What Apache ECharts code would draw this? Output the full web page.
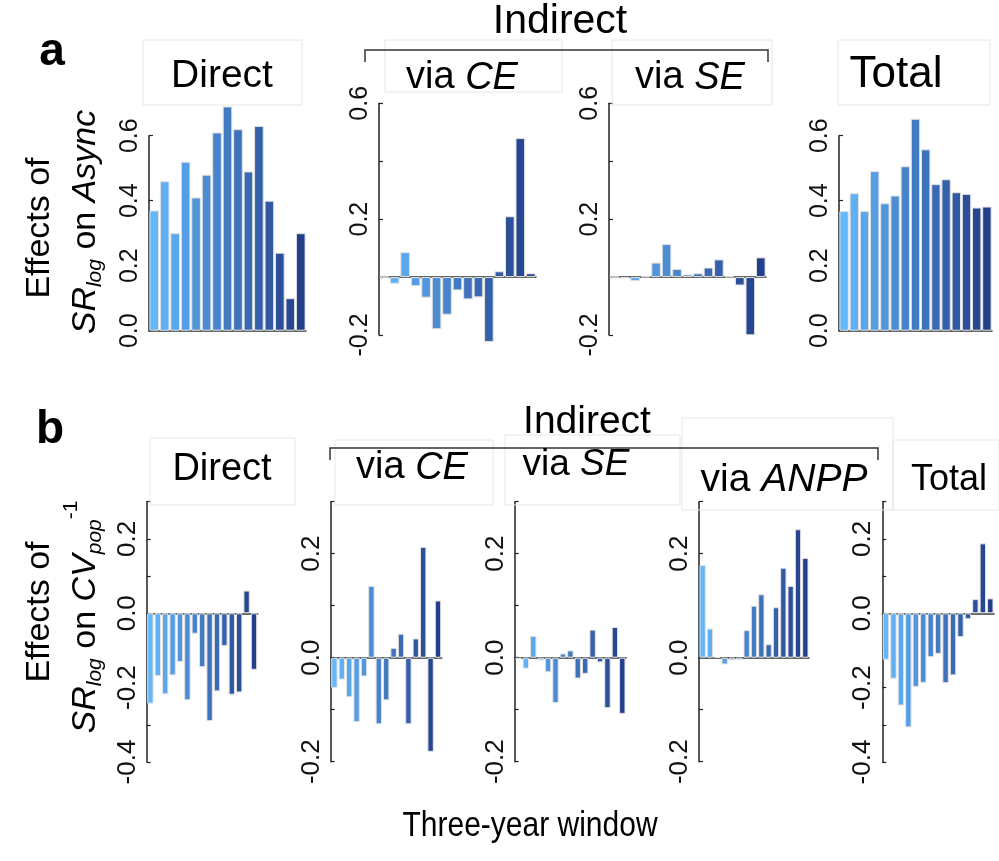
<!DOCTYPE html>
<html>
<head>
<meta charset="utf-8">
<script src="https://cdn.jsdelivr.net/npm/echarts@6/dist/echarts.min.js"></script>
<style>
html, body { margin: 0; padding: 0; background: #fff; }
#main { width: 999px; height: 861px; }
</style>
</head>
<body>
<div id="main"></div>
<script>
// three-year windows (x categories, labels hidden)
var windows = ['W1','W2','W3','W4','W5','W6','W7','W8','W9','W10','W11','W12','W13','W14','W15'];

// panel a: effects of SRlog on Async
var aDirect = [0.37, 0.46, 0.30, 0.52, 0.41, 0.48, 0.61, 0.69, 0.62, 0.49, 0.63, 0.40, 0.24, 0.10, 0.30];
var aViaCE  = [0, -0.023, 0.086, -0.031, -0.071, -0.18, -0.13, -0.046, -0.077, -0.07, -0.224, 0.02, 0.21, 0.48, 0.013];
var aViaSE  = [0, -0.005, -0.014, 0.002, 0.05, 0.114, 0.028, 0.009, 0.013, 0.033, 0.061, 0.002, -0.029, -0.201, 0.068];
var aTotal  = [0.368, 0.423, 0.368, 0.491, 0.392, 0.416, 0.506, 0.652, 0.558, 0.451, 0.466, 0.426, 0.421, 0.379, 0.382];

// panel b: effects of SRlog on CVpop^-1
var bDirect = [-0.243, -0.169, -0.218, -0.167, -0.131, -0.234, -0.055, -0.145, -0.29, -0.21, -0.088, -0.219, -0.213, 0.061, -0.152];
var bViaCE  = [-0.058, -0.042, -0.076, -0.124, -0.036, 0.138, -0.128, -0.082, 0.019, 0.046, -0.128, 0.037, 0.213, -0.181, 0.11];
var bViaSE  = [-0.003, -0.021, 0.042, -0.005, -0.028, -0.087, 0.008, 0.014, -0.04, -0.031, 0.054, -0.009, -0.097, 0.059, -0.108];
var bViaANPP = [0.178, 0.056, 0.001, -0.013, -0.005, -0.004, 0.053, 0.1, 0.122, 0.026, 0.097, 0.173, 0.138, 0.247, 0.192];
var bTotal  = [-0.125, -0.176, -0.248, -0.307, -0.198, -0.187, -0.118, -0.109, -0.188, -0.167, -0.064, -0.016, 0.038, 0.188, 0.04];

// y tick labels shown on each kind of axis
var ticksA0  = ['0.0', '0.2', '0.4', '0.6'];
var ticksA2  = ['-0.2', '0.2', '0.6'];
var ticksB4  = ['-0.4', '-0.2', '0.0', '0.2'];
var ticksB2  = ['-0.2', '0.0', '0.2'];

var FONT = '"Liberation Sans", Arial, Helvetica, sans-serif';

// light blue -> navy, one colour per window
function barColor(i) {
    var c0 = [99, 184, 252], c1 = [35, 62, 138];
    var t = i / (windows.length - 1);
    var c = c0.map(function (v, k) { return Math.round(v + (c1[k] - v) * t); });
    return 'rgb(' + c.join(',') + ')';
}

// layout of the 9 small plots (x0 = y axis, x1 = end of x axis)
var panels = [
    {data: aDirect, x0: 149, x1: 306, top: 135.7, bot: 330.7, min: 0, max: 0.6, step: 0.2, labels: ticksA0, fs: 25, gap: '8%'},
    {data: aViaCE, x0: 379, x1: 536, top: 103.3, bot: 335, min: -0.2, max: 0.6, step: 0.2, labels: ticksA2, fs: 25, gap: '8%'},
    {data: aViaSE, x0: 609, x1: 766, top: 103.3, bot: 335, min: -0.2, max: 0.6, step: 0.2, labels: ticksA2, fs: 25, gap: '8%'},
    {data: aTotal, x0: 839, x1: 992, top: 135.7, bot: 330.7, min: 0, max: 0.6, step: 0.2, labels: ticksA0, fs: 25, gap: '8%'},
    {data: bDirect, x0: 146.7, x1: 257.7, top: 501.7, bot: 762, min: -0.4, max: 0.3, step: 0.1, labels: ticksB4, fs: 26, gap: '14%'},
    {data: bViaCE, x0: 330.7, x1: 441.7, top: 501.7, bot: 761.7, min: -0.2, max: 0.3, step: 0.1, labels: ticksB2, fs: 26, gap: '14%'},
    {data: bViaSE, x0: 514.7, x1: 626, top: 501.7, bot: 761.7, min: -0.2, max: 0.3, step: 0.1, labels: ticksB2, fs: 26, gap: '14%'},
    {data: bViaANPP, x0: 699, x1: 809, top: 501.7, bot: 761.7, min: -0.2, max: 0.3, step: 0.1, labels: ticksB2, fs: 26, gap: '14%'},
    {data: bTotal, x0: 882.3, x1: 994, top: 501.7, bot: 762, min: -0.4, max: 0.3, step: 0.1, labels: ticksB4, fs: 26, gap: '14%'}
];

var grids = [], xAxes = [], yAxes = [], series = [];
panels.forEach(function (p, i) {
    grids.push({left: p.x0, top: p.top, width: p.x1 - p.x0, height: p.bot - p.top});
    xAxes.push({
        type: 'category', gridIndex: i, data: windows,
        axisLine: {onZero: true, lineStyle: {color: '#333', width: 1.5}},
        axisTick: {show: false}, axisLabel: {show: false}, splitLine: {show: false}
    });
    yAxes.push({
        type: 'value', gridIndex: i, min: p.min, max: p.max, interval: p.step,
        axisLine: {show: true, onZero: false, lineStyle: {color: '#222', width: 1.5}},
        axisTick: {show: true, inside: true, length: 4, lineStyle: {color: '#222', width: 1.2}},
        splitLine: {show: false},
        axisLabel: {
            rotate: 90, margin: 6, fontSize: p.fs, color: '#111', fontFamily: FONT,
            formatter: function (v) {
                var s = (Math.round(v * 10) / 10).toFixed(1);
                if (s === '-0.0') s = '0.0';
                return p.labels.indexOf(s) >= 0 ? s : '';
            }
        }
    });
    series.push({
        type: 'bar', xAxisIndex: i, yAxisIndex: i, data: p.data,
        barCategoryGap: p.gap, clip: false, silent: true,
        itemStyle: {
            color: function (params) { return barColor(params.dataIndex); },
            borderColor: '#e2e2e2', borderWidth: 1
        }
    });
});

function txt(x, y, text, size, extra) {
    var el = {
        type: 'text', x: x, y: y, z: 10,
        style: {
            text: text, fontSize: size, fontFamily: FONT, fill: '#000',
            align: 'center', verticalAlign: 'middle',
            textAlign: 'center', textVerticalAlign: 'middle',
            rich: {
                i: {fontSize: size, fontStyle: 'italic', fontFamily: FONT, fill: '#000'},
                n: {fontSize: size, fontFamily: FONT, fill: '#000'},
                sub: {fontSize: Math.round(size * 0.62), fontStyle: 'italic', fontFamily: FONT, fill: '#000', padding: [18, 0, 0, 0]},
                sup: {fontSize: Math.round(size * 0.62), fontFamily: FONT, fill: '#000', padding: [0, 0, 30, 0]}
            }
        }
    };
    if (extra) for (var k in extra) el[k] = extra[k];
    return el;
}
function bold(x, y, letter) {
    return {type: 'text', x: x, y: y, z: 10,
        style: {text: letter, fontSize: 46, fontWeight: 'bold', fontFamily: FONT, fill: '#000',
            align: 'center', verticalAlign: 'middle', textAlign: 'center', textVerticalAlign: 'middle'}};
}
function box(x, y, w, h) {
    return {type: 'rect', shape: {x: x, y: y, width: w, height: h}, z: 1,
        style: {fill: 'none', stroke: '#e6e6e6', lineWidth: 1}};
}
function bracket(x0, x1, y, drop) {
    return {type: 'polyline', z: 5, shape: {points: [[x0, y + drop], [x0, y], [x1, y], [x1, y + drop]]},
        style: {fill: 'none', stroke: '#333', lineWidth: 1.5}};
}

var graphics = [
    // panel a headers
    box(143, 40, 159, 65), box(385, 40, 177, 52), box(612, 40, 160, 65), box(838, 40, 152, 65),
    bracket(365, 768, 50, 12),
    bold(52, 52, 'a'),
    txt(560, 22, 'Indirect', 41),
    txt(222, 76, 'Direct', 39),
    txt(462, 78, '{n|via }{i|CE}', 38),
    txt(690, 78, '{n|via }{i|SE}', 38),
    txt(896, 75, 'Total', 44),
    txt(40, 228, 'Effects of', 34, {rotation: Math.PI / 2}),
    txt(86, 222, '{i|SR}{sub|log}{n| on }{i|Async}', 34, {rotation: Math.PI / 2}),

    // panel b headers
    box(150, 438, 145, 67), box(335, 440, 158, 65), box(505, 435, 175, 70), box(682, 418, 211, 92), box(893, 440, 106, 70),
    bracket(330, 878, 448, 12),
    bold(50, 430, 'b'),
    txt(587, 422, 'Indirect', 39),
    txt(222, 470, 'Direct', 38),
    txt(412, 468, '{n|via }{i|CE}', 38),
    txt(576, 465, '{n|via }{i|SE}', 37),
    txt(784, 480, '{n|via }{i|ANPP}', 39),
    txt(949, 480, 'Total', 36),
    txt(40, 612, 'Effects of', 34, {rotation: Math.PI / 2}),
    txt(86, 617, '{i|SR}{sub|log}{n| on }{i|CV}{sub|pop}{sup|-1}', 34, {rotation: Math.PI / 2}),

    txt(530, 826, 'Three-year window', 30, {scaleY: 1.15})
];

var chart = echarts.init(document.getElementById('main'), null, {renderer: 'canvas'});
chart.setOption({
    animation: false,
    backgroundColor: '#fff',
    grid: grids,
    xAxis: xAxes,
    yAxis: yAxes,
    series: series,
    graphic: graphics
});
</script>
</body>
</html>
